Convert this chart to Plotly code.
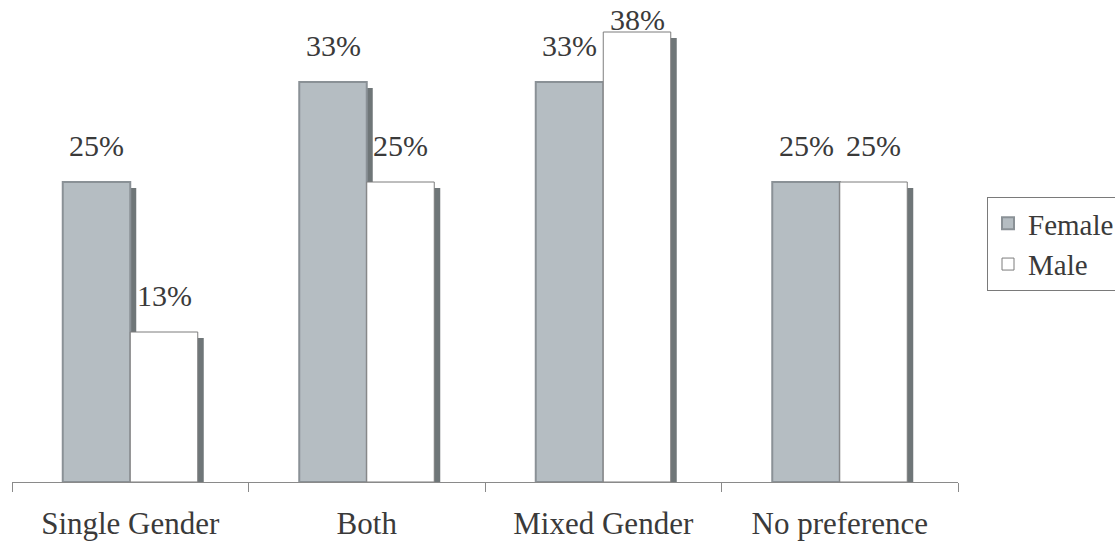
import plotly.graph_objects as go

categories = ["Single Gender", "Both", "Mixed Gender", "No preference"]
female = [25.0, 33.33, 33.33, 25.0]
male = [12.5, 25.0, 37.5, 25.0]
female_labels = ["25%", "33%", "33%", "25%"]
male_labels = ["13%", "25%", "38%", "25%"]

FONT = "Liberation Serif"
W, H = 1115, 545
ML, MR, MT, MB = 12, 157, 2, 63
YMAX = 40.0
plot_w = W - ML - MR
plot_h = H - MT - MB
cat_px = plot_w / len(categories)
bar_px = 67.5
bw = bar_px / cat_px
sh_dx = 6 / cat_px
sh_dy = 6 * YMAX / plot_h

female_fill = "#b5bdc2"
female_line = "#8a9196"
male_fill = "#ffffff"
male_line = "#7d7d7d"
shadow = "#6f7678"
text_col = "#3a3a3a"

fig = go.Figure()
fig.add_trace(go.Bar(x=categories, y=[v - sh_dy for v in female], width=bw, offset=-bw + sh_dx,
                     marker=dict(color=shadow, line=dict(width=0)), showlegend=False, hoverinfo="skip"))
fig.add_trace(go.Bar(x=categories, y=female, width=bw, offset=-bw, name="Female",
                     marker=dict(color=female_fill, line=dict(color=female_line, width=2))))
fig.add_trace(go.Bar(x=categories, y=[v - sh_dy for v in male], width=bw, offset=sh_dx,
                     marker=dict(color=shadow, line=dict(width=0)), showlegend=False, hoverinfo="skip"))
fig.add_trace(go.Bar(x=categories, y=male, width=bw, offset=0, name="Male",
                     marker=dict(color=male_fill, line=dict(color=male_line, width=1))))

ppu = plot_h / YMAX
label_shift = 18
for vals, labs, dx in ((female, female_labels, -bar_px / 2), (male, male_labels, bar_px / 2)):
    for c, v, t in zip(categories, vals, labs):
        bar_top_px = MT + (YMAX - v) * ppu
        ys = min(label_shift, bar_top_px - 38)
        fig.add_annotation(x=c, y=v, xref="x", yref="y", text=t, showarrow=False,
                           xshift=dx, yshift=ys, yanchor="bottom",
                           font=dict(family=FONT, size=30, color=text_col))

fig.update_layout(
    width=W, height=H,
    margin=dict(l=ML, r=MR, t=MT, b=MB),
    barmode="overlay",
    paper_bgcolor="white", plot_bgcolor="white",
    xaxis=dict(type="category", range=[-0.5, len(categories) - 0.5], showline=True,
               linecolor="#8a8a8a", linewidth=1, ticks="outside", tickson="boundaries",
               ticklen=9, tickcolor="#8a8a8a", showgrid=False, ticklabelstandoff=14,
               tickfont=dict(family=FONT, size=31, color=text_col)),
    yaxis=dict(range=[0, YMAX], visible=False, showgrid=False, zeroline=False),
    legend=dict(xref="container", yref="container", x=987 / W, y=1 - 197 / H,
                xanchor="left", yanchor="top", bordercolor="#7a7a7a", borderwidth=1,
                bgcolor="white", itemwidth=30, traceorder="normal",
                font=dict(family=FONT, size=29, color=text_col)),
    showlegend=True,
)

fig.write_html("out.html")
